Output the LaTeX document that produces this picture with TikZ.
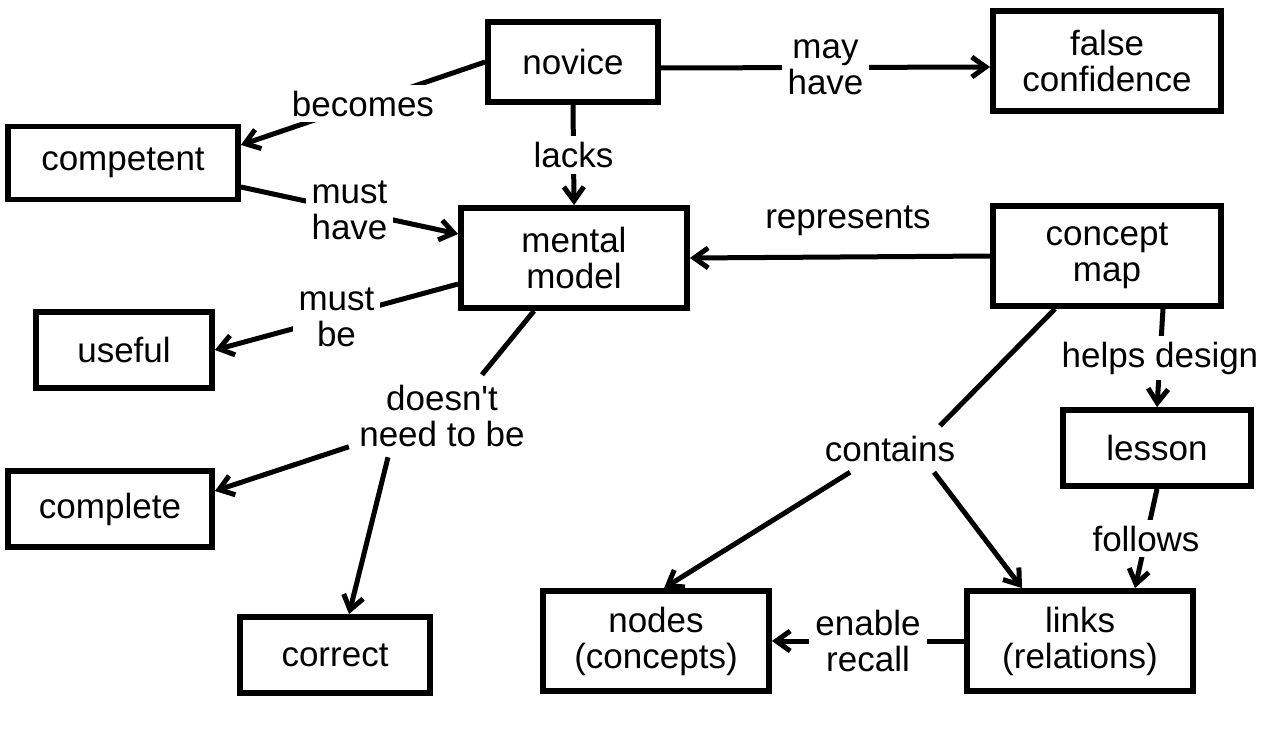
\documentclass[tikz,border=0pt]{standalone}
\usepackage{fontspec}
\setmainfont{Liberation Sans}
\usetikzlibrary{arrows.meta, calc}

\begin{document}
\begin{tikzpicture}[x=0.5pt, y=-0.5pt,
        every node/.style={font=\fontsize{17.5}{18}\selectfont, align=center},
        box/.style={draw, line width=2.9pt, minimum height=38pt, inner sep=4pt},
        tall/.style={box, minimum height=50pt},
        link/.style={line width=2.5pt},
        arr/.style={link, -{Straight Barb[length=7pt, width=10pt]}},
        lbl/.style={fill=white, inner sep=3pt}]
        \useasboundingbox (0,0) rectangle (1284,738);
        \node[box, minimum width=85pt, minimum height=40pt] (novice) at (573,62) {novice};
        \node[tall, minimum width=114pt] (fconf) at (1107,61) {false\\confidence};
        \node[box, minimum width=115pt, minimum height=36.5pt] (competent) at (123,163) {competent};
        \node[tall, minimum width=113pt] (mm) at (574,258) {mental\\model};
        \node[tall, minimum width=114pt] (cmap) at (1107,256) {concept\\map};
        \node[box, minimum width=88pt] (useful) at (124,350) {useful};
        \node[box, minimum width=94pt] (lesson) at (1157,448) {lesson};
        \node[box, minimum width=102pt] (complete) at (110,509) {complete};
        \node[box, minimum width=95pt] (correct) at (335,655) {correct};
        \node[tall, minimum width=113pt] (nodes) at (656,641) {nodes\\(concepts)};
        \node[tall, minimum width=113pt] (links) at (1080,641) {links\\(relations)};
        \node[inner sep=5pt] (dntb) at (442,416) {doesn\textquotesingle t\\need to be};
        \node[inner sep=5pt] (contains) at (890,449) {contains};
        \draw[arr] (novice.west) -- node[lbl] {becomes} ([yshift=9pt]competent.east);
        \draw[arr] ([yshift=-3pt]novice.east) -- node[lbl] {may\\have} ([yshift=-3pt]fconf.west);
        \draw[arr] (novice.south) -- node[lbl] {lacks} (mm.north);
        \draw[arr] ([yshift=-12pt]competent.east) -- node[lbl] {must\\have} ([yshift=12pt]mm.west);
        \draw[arr] (cmap.west) -- node[above=6pt, xshift=4pt] {represents} (mm.east);
        \draw[arr] ([yshift=-13pt]mm.west) -- node[lbl] {must\\be} (useful.east);
        \draw[link] ([xshift=-20pt]mm.south) -- ([xshift=20pt]dntb.north);
        \draw[arr] (dntb) -- ([yshift=9pt]complete.east);
        \draw[arr] ([xshift=-27pt]dntb.south) -- ([xshift=7pt]correct.north);
        \draw[arr] ([xshift=28pt]cmap.south) -- node[lbl] {helps design} (lesson.north);
        \draw[link] ([xshift=-26pt]cmap.south) -- ([xshift=25pt]contains.north);
        \draw[arr] ([xshift=-20pt]contains.south) -- ([xshift=4pt]nodes.north);
        \draw[arr] ([xshift=22pt]contains.south) -- ([xshift=-29pt]links.north);
        \draw[arr] (lesson.south) -- node[lbl] {follows} ([xshift=27.5pt]links.north);
        \draw[arr] (links.west) -- node[lbl] {enable\\recall} (nodes.east);
    \end{tikzpicture}
\end{document}
